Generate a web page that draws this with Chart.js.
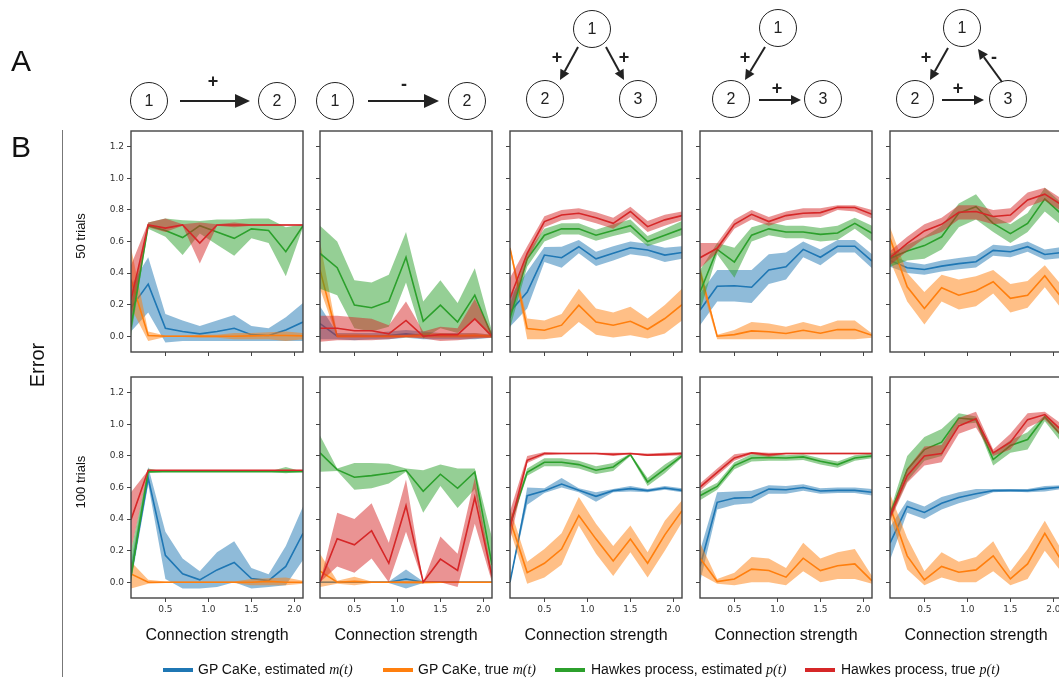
<!DOCTYPE html>
<html>
<head>
<meta charset="utf-8">
<script src="https://cdn.jsdelivr.net/npm/chart.js@4.4.0/dist/chart.umd.min.js"></script>
<style>
  body { margin: 0; width: 1059px; height: 681px; overflow: hidden; background: #fff;
         position: relative; font-family: "Liberation Sans", Arial, sans-serif; color: #111; }
  .abs { position: absolute; }
  .panel { position: absolute; }
  .rot { position: absolute; transform: translate(-50%, -50%) rotate(-90deg); white-space: nowrap; }
  .xlab { position: absolute; width: 200px; text-align: center; font-size: 16px; }
  .leg { position: absolute; top: 661px; font-size: 14px; white-space: nowrap; }
  .sw { position: absolute; top: 668px; width: 30px; height: 4px; }
  .it { font-family: "Liberation Serif", "DejaVu Serif", serif; font-style: italic; }
</style>
</head>
<body>

<canvas id="deco" class="abs" width="1059" height="681" style="left:0;top:0"></canvas>

<div class="abs" style="left:11px;top:44px;font-size:30px">A</div>
<div class="abs" style="left:11px;top:130px;font-size:30px">B</div>
<div class="abs" style="left:62px;top:130px;width:1px;height:547px;background:#777"></div>
<div class="rot" style="left:37px;top:365px;font-size:20px">Error</div>
<div class="rot" style="left:80px;top:236px;font-size:13px">50 trials</div>
<div class="rot" style="left:80px;top:482px;font-size:13px">100 trials</div>

<div class="sw" style="left:163px;background:#1f77b4"></div>
<div class="leg" style="left:198px">GP CaKe, estimated <span class="it">m(t)</span></div>
<div class="sw" style="left:383px;background:#ff7f0e"></div>
<div class="leg" style="left:418px">GP CaKe, true <span class="it">m(t)</span></div>
<div class="sw" style="left:555px;background:#2ca02c"></div>
<div class="leg" style="left:591px">Hawkes process, estimated <span class="it">p(t)</span></div>
<div class="sw" style="left:805px;background:#d62728"></div>
<div class="leg" style="left:841px">Hawkes process, true <span class="it">p(t)</span></div>

<script>
// connection strengths and tick values
const xs = [0.1, 0.3, 0.5, 0.7, 0.9, 1.1, 1.3, 1.5, 1.7, 1.9, 2.1];
const xTicks = [0.5, 1.0, 1.5, 2.0];
const yTicks = [0.0, 0.2, 0.4, 0.6, 0.8, 1.0, 1.2];
const xTitle = 'Connection strength';

// each series: [mean, lower, upper]
// 50 trials
const r1c1_mEst = [
  [0.18, 0.33, 0.05, 0.03, 0.015, 0.03, 0.05, 0.01, 0.005, 0.04, 0.09],
  [0.03, 0.15, -0.04, -0.03, -0.03, -0.03, -0.03, -0.03, -0.03, -0.03, -0.03],
  [0.32, 0.50, 0.14, 0.10, 0.065, 0.10, 0.135, 0.065, 0.05, 0.12, 0.21]];
const r1c1_mTrue = [
  [0.36, 0.005, 0, 0, 0, 0, 0, 0.002, 0.005, 0.005, 0.002],
  [0.18, -0.03, -0.005, -0.005, -0.01, -0.01, -0.02, -0.02, -0.02, -0.03, -0.02],
  [0.56, 0.03, 0.005, 0.005, 0.01, 0.01, 0.02, 0.02, 0.025, 0.03, 0.02]];
const r1c1_pEst = [
  [0.06, 0.70, 0.67, 0.625, 0.70, 0.66, 0.62, 0.68, 0.67, 0.535, 0.70],
  [0.0, 0.68, 0.63, 0.515, 0.65, 0.58, 0.51, 0.62, 0.59, 0.38, 0.69],
  [0.2, 0.72, 0.745, 0.735, 0.73, 0.74, 0.74, 0.745, 0.745, 0.69, 0.71]];
const r1c1_pTrue = [
  [0.23, 0.705, 0.685, 0.705, 0.59, 0.705, 0.705, 0.705, 0.705, 0.705, 0.705],
  [0.10, 0.69, 0.66, 0.70, 0.46, 0.70, 0.69, 0.70, 0.70, 0.70, 0.70],
  [0.45, 0.72, 0.745, 0.71, 0.72, 0.71, 0.72, 0.71, 0.71, 0.71, 0.71]];

const r1c2_mEst = [
  [0.08, 0.0, 0.0, 0.0, 0.005, 0.015, 0.005, 0.003, 0.003, 0.003, 0.002],
  [-0.02, -0.02, -0.025, -0.02, -0.02, -0.01, -0.02, -0.02, -0.02, -0.02, -0.01],
  [0.19, 0.02, 0.02, 0.02, 0.03, 0.04, 0.03, 0.02, 0.02, 0.02, 0.01]];
const r1c2_mTrue = [
  [0.42, 0.0, 0.0, 0.0, 0.0, 0.0, 0.005, 0.005, 0.003, 0.005, 0.0],
  [0.30, -0.01, -0.01, -0.01, -0.01, -0.01, -0.01, -0.01, -0.01, -0.01, -0.01],
  [0.60, 0.015, 0.015, 0.01, 0.01, 0.01, 0.02, 0.02, 0.015, 0.02, 0.01]];
const r1c2_pEst = [
  [0.525, 0.434, 0.197, 0.18, 0.22, 0.50, 0.095, 0.197, 0.09, 0.26, 0.0],
  [0.30, 0.26, 0.05, 0.03, 0.06, 0.34, -0.015, 0.05, 0.02, 0.11, -0.015],
  [0.70, 0.60, 0.355, 0.34, 0.39, 0.66, 0.22, 0.355, 0.21, 0.43, 0.03]];
const r1c2_pTrue = [
  [0.05, 0.05, 0.035, 0.035, 0.015, 0.10, 0.0, 0.01, 0.01, 0.11, 0.0],
  [-0.035, -0.025, -0.025, -0.025, -0.02, -0.005, -0.015, -0.03, -0.025, -0.015, -0.01],
  [0.13, 0.13, 0.12, 0.11, 0.07, 0.22, 0.03, 0.06, 0.05, 0.235, 0.02]];

const r1c3_mEst = [
  [0.155, 0.28, 0.514, 0.497, 0.567, 0.49, 0.525, 0.56, 0.546, 0.514, 0.53],
  [0.06, 0.175, 0.47, 0.434, 0.525, 0.445, 0.48, 0.52, 0.505, 0.47, 0.49],
  [0.25, 0.41, 0.565, 0.567, 0.61, 0.535, 0.57, 0.60, 0.585, 0.56, 0.57]];
const r1c3_mTrue = [
  [0.557, 0.049, 0.038, 0.07, 0.197, 0.09, 0.07, 0.095, 0.044, 0.112, 0.20],
  [0.54, -0.02, -0.02, -0.005, 0.09, 0.01, -0.008, 0.006, -0.015, 0.017, 0.10],
  [0.57, 0.112, 0.10, 0.14, 0.30, 0.176, 0.15, 0.186, 0.112, 0.197, 0.30]];
const r1c3_pEst = [
  [0.116, 0.49, 0.64, 0.68, 0.68, 0.64, 0.67, 0.70, 0.60, 0.64, 0.68],
  [0.05, 0.44, 0.60, 0.645, 0.645, 0.605, 0.635, 0.66, 0.57, 0.605, 0.64],
  [0.20, 0.53, 0.68, 0.715, 0.715, 0.675, 0.71, 0.74, 0.635, 0.68, 0.73]];
const r1c3_pTrue = [
  [0.24, 0.525, 0.726, 0.768, 0.779, 0.75, 0.715, 0.79, 0.694, 0.737, 0.764],
  [0.13, 0.48, 0.69, 0.735, 0.745, 0.715, 0.68, 0.755, 0.66, 0.70, 0.735],
  [0.37, 0.57, 0.76, 0.80, 0.81, 0.785, 0.75, 0.82, 0.73, 0.77, 0.79]];

const r1c4_mEst = [
  [0.165, 0.317, 0.32, 0.31, 0.42, 0.44, 0.55, 0.50, 0.57, 0.57, 0.476],
  [0.07, 0.22, 0.22, 0.21, 0.33, 0.36, 0.50, 0.45, 0.53, 0.53, 0.43],
  [0.27, 0.42, 0.42, 0.42, 0.52, 0.53, 0.60, 0.55, 0.61, 0.61, 0.52]];
const r1c4_mTrue = [
  [0.41, 0.0, 0.01, 0.034, 0.028, 0.017, 0.038, 0.019, 0.042, 0.042, 0.006],
  [0.35, -0.02, -0.02, -0.02, -0.02, -0.02, -0.02, -0.02, -0.02, -0.02, -0.01],
  [0.45, 0.01, 0.04, 0.09, 0.08, 0.06, 0.09, 0.063, 0.10, 0.10, 0.017]];
const r1c4_pEst = [
  [0.28, 0.55, 0.47, 0.64, 0.68, 0.66, 0.66, 0.645, 0.654, 0.715, 0.652],
  [0.16, 0.52, 0.37, 0.60, 0.64, 0.62, 0.62, 0.60, 0.61, 0.68, 0.60],
  [0.42, 0.59, 0.56, 0.69, 0.72, 0.70, 0.70, 0.685, 0.70, 0.75, 0.70]];
const r1c4_pTrue = [
  [0.497, 0.557, 0.709, 0.772, 0.726, 0.764, 0.779, 0.783, 0.817, 0.815, 0.772],
  [0.43, 0.53, 0.68, 0.74, 0.70, 0.735, 0.75, 0.755, 0.80, 0.79, 0.745],
  [0.59, 0.59, 0.74, 0.80, 0.755, 0.79, 0.81, 0.81, 0.83, 0.83, 0.80]];

const r1c5_mEst = [
  [0.48, 0.434, 0.423, 0.444, 0.46, 0.472, 0.544, 0.535, 0.567, 0.518, 0.53],
  [0.44, 0.40, 0.39, 0.41, 0.425, 0.435, 0.51, 0.50, 0.535, 0.485, 0.495],
  [0.52, 0.47, 0.455, 0.48, 0.495, 0.51, 0.58, 0.57, 0.60, 0.55, 0.565]];
const r1c5_mTrue = [
  [0.62, 0.313, 0.176, 0.307, 0.26, 0.288, 0.345, 0.24, 0.26, 0.383, 0.24],
  [0.48, 0.22, 0.074, 0.22, 0.17, 0.19, 0.27, 0.15, 0.18, 0.31, 0.17],
  [0.69, 0.40, 0.28, 0.39, 0.36, 0.38, 0.42, 0.33, 0.35, 0.45, 0.32]];
const r1c5_pEst = [
  [0.493, 0.54, 0.574, 0.63, 0.78, 0.82, 0.715, 0.65, 0.715, 0.87, 0.77],
  [0.44, 0.48, 0.49, 0.55, 0.69, 0.74, 0.66, 0.59, 0.66, 0.79, 0.70],
  [0.52, 0.58, 0.63, 0.70, 0.84, 0.90, 0.76, 0.71, 0.78, 0.94, 0.84]];
const r1c5_pTrue = [
  [0.497, 0.588, 0.667, 0.709, 0.785, 0.79, 0.758, 0.768, 0.863, 0.90, 0.83],
  [0.45, 0.54, 0.62, 0.66, 0.74, 0.74, 0.71, 0.72, 0.82, 0.86, 0.79],
  [0.54, 0.63, 0.71, 0.75, 0.83, 0.83, 0.80, 0.81, 0.91, 0.94, 0.87]];

// 100 trials
const r2c1_mEst = [
  [0.05, 0.66, 0.17, 0.053, 0.015, 0.078, 0.125, 0.023, 0.01, 0.10, 0.31],
  [0.0, 0.62, 0.02, -0.04, -0.04, -0.03, 0.0, -0.04, -0.03, -0.02, 0.14],
  [0.12, 0.73, 0.32, 0.15, 0.07, 0.19, 0.26, 0.09, 0.05, 0.23, 0.48]];
const r2c1_mTrue = [
  [0.053, 0.0, 0.0, 0.0, 0.0, 0.0, 0.0, 0.0, 0.005, 0.0, 0.0],
  [-0.04, -0.01, -0.005, -0.005, -0.005, -0.005, -0.005, -0.02, -0.02, -0.02, -0.01],
  [0.13, 0.015, 0.005, 0.005, 0.005, 0.005, 0.005, 0.02, 0.025, 0.03, 0.01]];
const r2c1_pEst = [
  [0.04, 0.70, 0.70, 0.70, 0.70, 0.70, 0.70, 0.70, 0.70, 0.70, 0.70],
  [0.0, 0.69, 0.70, 0.70, 0.70, 0.70, 0.70, 0.70, 0.70, 0.69, 0.70],
  [0.2, 0.72, 0.70, 0.70, 0.70, 0.70, 0.70, 0.70, 0.70, 0.73, 0.70]];
const r2c1_pTrue = [
  [0.396, 0.709, 0.709, 0.709, 0.709, 0.709, 0.709, 0.709, 0.709, 0.709, 0.709],
  [0.20, 0.709, 0.709, 0.709, 0.709, 0.709, 0.709, 0.709, 0.709, 0.709, 0.709],
  [0.57, 0.709, 0.709, 0.709, 0.709, 0.709, 0.709, 0.709, 0.709, 0.709, 0.709]];

const r2c2_mEst = [
  [0.0, 0.0, 0.0, 0.0, 0.0, 0.02, 0.0, 0.0, 0.0, 0.0, 0.0],
  [-0.005, -0.005, -0.005, -0.005, -0.005, -0.04, -0.005, -0.005, -0.005, -0.005, -0.005],
  [0.005, 0.005, 0.005, 0.005, 0.005, 0.08, 0.005, 0.005, 0.005, 0.005, 0.005]];
const r2c2_mTrue = [
  [0.07, 0.0, 0.005, 0.0, 0.0, 0.0, 0.0, 0.0, 0.0, 0.0, 0.0],
  [-0.03, -0.01, -0.02, -0.005, -0.005, -0.01, -0.01, -0.005, -0.005, -0.005, -0.005],
  [0.18, 0.01, 0.035, 0.005, 0.005, 0.01, 0.01, 0.005, 0.005, 0.005, 0.005]];
const r2c2_pEst = [
  [0.82, 0.713, 0.665, 0.675, 0.69, 0.709, 0.576, 0.684, 0.595, 0.698, 0.11],
  [0.70, 0.705, 0.585, 0.595, 0.625, 0.70, 0.44, 0.61, 0.47, 0.59, 0.01],
  [0.93, 0.72, 0.755, 0.755, 0.75, 0.72, 0.71, 0.745, 0.72, 0.72, 0.28]];
const r2c2_pTrue = [
  [0.0, 0.275, 0.237, 0.326, 0.12, 0.485, 0.0, 0.146, 0.074, 0.537, 0.036],
  [0.0, 0.10, 0.06, 0.15, 0.0, 0.32, 0.0, 0.0, -0.03, 0.37, 0.0],
  [0.0, 0.44, 0.40, 0.50, 0.25, 0.65, 0.0, 0.29, 0.18, 0.66, 0.06]];

const r2c3_mEst = [
  [0.0, 0.548, 0.58, 0.622, 0.582, 0.544, 0.58, 0.593, 0.58, 0.597, 0.582],
  [0.0, 0.49, 0.565, 0.60, 0.57, 0.51, 0.57, 0.575, 0.57, 0.585, 0.57],
  [0.0, 0.60, 0.595, 0.66, 0.595, 0.57, 0.59, 0.61, 0.59, 0.61, 0.595]];
const r2c3_mTrue = [
  [0.396, 0.061, 0.12, 0.21, 0.423, 0.273, 0.135, 0.273, 0.12, 0.30, 0.453],
  [0.33, -0.01, 0.03, 0.11, 0.36, 0.18, 0.04, 0.19, 0.03, 0.20, 0.38],
  [0.47, 0.13, 0.21, 0.31, 0.54, 0.37, 0.23, 0.36, 0.19, 0.39, 0.52]];
const r2c3_pEst = [
  [0.364, 0.696, 0.76, 0.76, 0.745, 0.709, 0.73, 0.808, 0.635, 0.717, 0.80],
  [0.34, 0.675, 0.735, 0.735, 0.72, 0.685, 0.705, 0.80, 0.61, 0.69, 0.79],
  [0.39, 0.72, 0.785, 0.785, 0.77, 0.735, 0.755, 0.815, 0.66, 0.745, 0.815]];
const r2c3_pTrue = [
  [0.353, 0.772, 0.815, 0.815, 0.815, 0.815, 0.81, 0.815, 0.805, 0.81, 0.815],
  [0.26, 0.755, 0.805, 0.81, 0.81, 0.81, 0.80, 0.81, 0.80, 0.80, 0.805],
  [0.45, 0.80, 0.825, 0.82, 0.82, 0.82, 0.82, 0.82, 0.815, 0.82, 0.825]];

const r2c4_mEst = [
  [0.10, 0.506, 0.533, 0.537, 0.59, 0.586, 0.60, 0.578, 0.582, 0.582, 0.57],
  [0.0, 0.46, 0.49, 0.50, 0.56, 0.56, 0.58, 0.56, 0.565, 0.565, 0.55],
  [0.2, 0.57, 0.575, 0.58, 0.615, 0.61, 0.62, 0.595, 0.60, 0.60, 0.59]];
const r2c4_mTrue = [
  [0.152, 0.004, 0.02, 0.083, 0.074, 0.032, 0.152, 0.074, 0.104, 0.116, 0.008],
  [0.05, -0.01, -0.02, 0.0, 0.0, -0.02, 0.07, 0.0, 0.02, 0.02, -0.01],
  [0.25, 0.02, 0.06, 0.16, 0.15, 0.09, 0.25, 0.15, 0.19, 0.21, 0.04]];
const r2c4_pEst = [
  [0.548, 0.607, 0.739, 0.787, 0.79, 0.787, 0.794, 0.766, 0.745, 0.787, 0.80],
  [0.52, 0.585, 0.715, 0.765, 0.77, 0.77, 0.775, 0.745, 0.725, 0.77, 0.785],
  [0.575, 0.63, 0.76, 0.81, 0.81, 0.805, 0.81, 0.785, 0.765, 0.805, 0.815]];
const r2c4_pTrue = [
  [0.603, 0.696, 0.787, 0.819, 0.808, 0.815, 0.815, 0.815, 0.815, 0.815, 0.815],
  [0.58, 0.675, 0.77, 0.81, 0.795, 0.81, 0.81, 0.81, 0.81, 0.81, 0.81],
  [0.625, 0.72, 0.81, 0.825, 0.82, 0.82, 0.82, 0.82, 0.82, 0.82, 0.82]];

const r2c5_mEst = [
  [0.248, 0.48, 0.442, 0.50, 0.537, 0.56, 0.58, 0.582, 0.58, 0.593, 0.603],
  [0.14, 0.44, 0.40, 0.46, 0.50, 0.53, 0.57, 0.575, 0.57, 0.575, 0.59],
  [0.35, 0.52, 0.48, 0.54, 0.57, 0.59, 0.59, 0.59, 0.59, 0.61, 0.615]];
const r2c5_mTrue = [
  [0.48, 0.167, 0.015, 0.10, 0.063, 0.078, 0.167, 0.021, 0.116, 0.31, 0.13],
  [0.42, 0.08, -0.02, 0.03, 0.0, 0.0, 0.07, -0.02, 0.02, 0.20, 0.06],
  [0.56, 0.28, 0.07, 0.19, 0.13, 0.16, 0.26, 0.07, 0.21, 0.39, 0.20]];
const r2c5_pEst = [
  [0.427, 0.713, 0.84, 0.887, 1.04, 1.03, 0.777, 0.866, 0.904, 1.048, 0.925],
  [0.40, 0.64, 0.77, 0.80, 1.0, 1.01, 0.74, 0.82, 0.84, 1.02, 0.88],
  [0.45, 0.80, 0.92, 0.97, 1.07, 1.05, 0.82, 0.90, 0.95, 1.06, 0.96]];
const r2c5_pTrue = [
  [0.417, 0.675, 0.80, 0.815, 0.99, 1.035, 0.819, 0.887, 1.03, 1.062, 0.96],
  [0.39, 0.63, 0.74, 0.76, 0.94, 0.98, 0.80, 0.84, 0.98, 1.03, 0.92],
  [0.44, 0.72, 0.86, 0.87, 1.04, 1.08, 0.84, 0.94, 1.07, 1.08, 1.0]];

const panels = [
  [r1c1_mEst, r1c1_mTrue, r1c1_pEst, r1c1_pTrue],
  [r1c2_mEst, r1c2_mTrue, r1c2_pEst, r1c2_pTrue],
  [r1c3_mEst, r1c3_mTrue, r1c3_pEst, r1c3_pTrue],
  [r1c4_mEst, r1c4_mTrue, r1c4_pEst, r1c4_pTrue],
  [r1c5_mEst, r1c5_mTrue, r1c5_pEst, r1c5_pTrue],
  [r2c1_mEst, r2c1_mTrue, r2c1_pEst, r2c1_pTrue],
  [r2c2_mEst, r2c2_mTrue, r2c2_pEst, r2c2_pTrue],
  [r2c3_mEst, r2c3_mTrue, r2c3_pEst, r2c3_pTrue],
  [r2c4_mEst, r2c4_mTrue, r2c4_pEst, r2c4_pTrue],
  [r2c5_mEst, r2c5_mTrue, r2c5_pEst, r2c5_pTrue]
];

const lineColors = ['#1f77b4', '#ff7f0e', '#2ca02c', '#d62728'];
const bandColors = ['rgba(31,119,180,0.5)', 'rgba(255,127,14,0.5)', 'rgba(44,160,44,0.5)', 'rgba(214,39,40,0.5)'];

// plot-area geometry
const colLeft = [131, 320, 510, 700, 890];
const rowTop = [131, 377];
const plotW = 172, plotH = 221;
const padL = 40, padT = 6, padR = 8;

const pts = arr => xs.map((x, i) => ({ x: x, y: arr[i] }));

function buildSets(series) {
  const sets = [];
  series.forEach((s, k) => {
    const base = 80 - k * 10;
    sets.push({ data: pts(s[1]), borderColor: 'transparent', borderWidth: 0, pointRadius: 0, fill: false, order: base });
    sets.push({ data: pts(s[2]), borderColor: 'transparent', borderWidth: 0, pointRadius: 0,
                fill: '-1', backgroundColor: bandColors[k], order: base });
    sets.push({ data: pts(s[0]), borderColor: lineColors[k], borderWidth: 1.6, pointRadius: 0,
                fill: false, order: base - 1, tension: 0 });
  });
  return sets;
}

const frame = {
  id: 'frame',
  afterDraw(chart) {
    const a = chart.chartArea, c = chart.ctx;
    c.save();
    c.strokeStyle = '#444';
    c.lineWidth = 1.4;
    c.strokeRect(a.left, a.top, a.right - a.left, a.bottom - a.top);
    c.restore();
  }
};

const tickFont = { family: 'DejaVu Sans', size: 9 };

panels.forEach((series, idx) => {
  const row = Math.floor(idx / 5), col = idx % 5;
  const xH = row === 1 ? 24 : 10;
  const W = padL + plotW + padR, H = padT + plotH + xH;
  const div = document.createElement('div');
  div.className = 'panel';
  div.style.left = (colLeft[col] - padL) + 'px';
  div.style.top = (rowTop[row] - padT) + 'px';
  const cv = document.createElement('canvas');
  cv.width = W; cv.height = H;
  div.appendChild(cv);
  document.body.appendChild(div);

  new Chart(cv, {
    type: 'line',
    data: { datasets: buildSets(series) },
    plugins: [frame],
    options: {
      responsive: false,
      animation: false,
      layout: { padding: { left: 0, top: padT, right: padR, bottom: 0 } },
      plugins: { legend: { display: false }, tooltip: { enabled: false } },
      scales: {
        x: {
          type: 'linear', min: 0.1, max: 2.1,
          afterBuildTicks: s => { s.ticks = xTicks.map(v => ({ value: v })); },
          afterFit: s => { s.height = xH; s.paddingLeft = 0; s.paddingRight = 0; },
          grid: { drawOnChartArea: false, drawTicks: true, tickLength: 4, color: '#444' },
          border: { display: false },
          ticks: { color: row === 1 ? '#333' : 'transparent', font: tickFont, padding: 2,
                   maxRotation: 0, autoSkip: false, callback: v => Number(v).toFixed(1) }
        },
        y: {
          type: 'linear', min: -0.1, max: 1.3,
          afterBuildTicks: s => { s.ticks = yTicks.map(v => ({ value: v })); },
          afterFit: s => { s.width = padL; s.paddingTop = 0; s.paddingBottom = 0; },
          grid: { drawOnChartArea: false, drawTicks: true, tickLength: 4, color: '#444' },
          border: { display: false },
          ticks: { color: col === 0 ? '#333' : 'transparent', font: tickFont, padding: 3,
                   autoSkip: false, callback: v => Number(v).toFixed(1) }
        }
      }
    }
  });

  if (row === 1) {
    const t = document.createElement('div');
    t.className = 'xlab';
    t.style.left = (colLeft[col] + plotW / 2 - 100) + 'px';
    t.style.top = '626px';
    t.textContent = xTitle;
    document.body.appendChild(t);
  }
});

// network diagrams (panel A)
const g = document.getElementById('deco').getContext('2d');
function node(x, y, label) {
  g.beginPath();
  g.arc(x, y, 18.5, 0, Math.PI * 2);
  g.lineWidth = 1;
  g.strokeStyle = '#222';
  g.stroke();
  g.fillStyle = '#222';
  g.font = '16px "Liberation Sans", Arial, sans-serif';
  g.textAlign = 'center';
  g.textBaseline = 'middle';
  g.fillText(label, x, y + 1);
}
function arrow(x1, y1, x2, y2, hl, hw) {
  const a = Math.atan2(y2 - y1, x2 - x1);
  const bx = x2 - hl * Math.cos(a), by = y2 - hl * Math.sin(a);
  g.beginPath();
  g.moveTo(x1, y1);
  g.lineTo(bx, by);
  g.lineWidth = 2;
  g.strokeStyle = '#222';
  g.stroke();
  g.beginPath();
  g.moveTo(x2, y2);
  g.lineTo(bx + hw * Math.sin(a), by - hw * Math.cos(a));
  g.lineTo(bx - hw * Math.sin(a), by + hw * Math.cos(a));
  g.closePath();
  g.fillStyle = '#222';
  g.fill();
}
function sign(x, y, s) {
  g.fillStyle = '#222';
  g.font = 'bold 18px "Liberation Sans", Arial, sans-serif';
  g.textAlign = 'center';
  g.textBaseline = 'middle';
  g.fillText(s, x, y);
}

node(149, 101, '1'); node(277, 101, '2');
arrow(180, 101, 250, 101, 15, 7); sign(213, 82, '+');
node(335, 101, '1'); node(467, 101, '2');
arrow(368, 101, 439, 101, 15, 7); sign(404, 85, '-');

node(592, 29, '1'); node(545, 99, '2'); node(638, 99, '3');
arrow(578, 47, 560, 80, 10, 5); arrow(606, 47, 624, 80, 10, 5);
sign(557, 58, '+'); sign(624, 58, '+');

node(778, 28, '1'); node(731, 99, '2'); node(823, 99, '3');
arrow(765, 47, 745, 80, 10, 5); sign(745, 58, '+');
arrow(759, 100, 801, 100, 10, 5); sign(777, 89, '+');

node(962, 28, '1'); node(915, 99, '2'); node(1008, 99, '3');
arrow(948, 48, 930, 80, 10, 5); sign(926, 58, '+');
arrow(942, 100, 984, 100, 10, 5); sign(958, 89, '+');
arrow(1002, 82, 978, 49, 10, 5); sign(994, 58, '-');
</script>
</body>
</html>
